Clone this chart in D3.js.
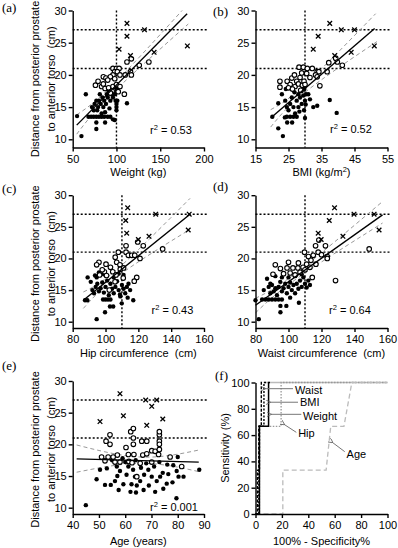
<!DOCTYPE html>
<html lang="en">
<head>
<meta charset="UTF-8">
<title>Distance from posterior prostate to anterior torso</title>
<script src="https://d3js.org/d3.v7.min.js"></script>
<style>
  body { margin: 0; background: #fff; }
  svg { display: block; font-family: "Liberation Sans", Arial, sans-serif; }
  .axis path, .axis line { stroke: #000; stroke-width: 1.4; }
  .axis text { font-size: 11px; fill: #000; font-family: "Liberation Sans", Arial, sans-serif; }
  .lbl { font-size: 11px; fill: #000; white-space: pre; }
  .plab { font-family: "Liberation Serif", "Times New Roman", serif; font-size: 13px; }
</style>
</head>
<body>
<svg id="chart" width="398" height="548"></svg>
<script>
// ---- (a) weight ----
const crossA = [[112,28],[112,26],[132,27],[103,24],[116,23],[143,23.5],[181,24.5]];
const openA = [[112,22],[117,22.5],[126,21.5],[137,22],[110,20],[116,20.5],[117,20],
  [96,21],[100,21],[103,21],[98,20.5],[101,20.5],[96,20],[104,20],
  [85,19.7],[88,19.5],[93,19.7],[76,18.4],[83,18.2],[87,17.9],[91,18],[96,18.2],[100,18.5],[104,18.2],[109,17],
  [79,19],[90,19.2],[98,19.4],[95,17.5],[102,17.4],[85,18.6],[93,17.2]];
const filledA = [[55,13.6],[60,10.5],[65,17],[77,11.6],[77,12.6],[87,12.6],[96,13.1],[112,15.6],
  [68,13.5],[71,13.5],[74,13.5],[77,13.5],[80,13.5],[83,13.5],[86,13.5],[90,13.5],[93,13.5],
  [72,15],[74,14.5],[75,15.5],[77,16],[78,14.5],[79,15],[80,16],[82,15.5],[83,14],[84,16.5],[85,15],
  [86,16],[88,15.5],[89,17],[90,16.5],[91,17.5],[93,16],[94,17],[95,17.5],[96,16.5],[98,17],[99,16],
  [100,15.5],[100,15],[100,14.5],[101,16],[100,17.5],[100,18],[98,13],[81,17],[92,14.8],[87,14.2]];
const fitA = [[54.6,12.2],[180.7,29.5]];
const hiA = [[54.6,13.8],[95,18.35],[175,30]];
const loA = [[54.6,10.8],[95,17.1],[182,27.9]];

// ---- (b) BMI ----
const crossB = [[37.5,28],[41,27],[45,27],[34,26],[32.5,24],[39,23],[44,23.5],[51,24.5]];
const openB = [[28.2,21.2],[29.5,21.2],[30.7,21],[32.2,21],[33.7,20.5],[34.2,20.5],[33.2,20],[33.7,19.7],[34.5,18.3],
  [37.2,21.9],[39.3,22.6],[39.8,22],[41.3,21.5],[36.7,20.5],
  [22.4,19],[22.4,18.1],[24.6,19],[25.5,18.5],[26,19.5],[26.8,20],[27.5,19],[27,18.2],[28,18.6],[28.5,19.6],
  [29,20.3],[29.2,18.4],[29.7,19],[25,18],[26.2,17.8],[28.7,17.6],[30,18.5],[31.5,19.6],[30.5,20.2]];
const filledB = [[20.1,13.5],[21.9,15.6],[23.3,10.5],[21.9,11.7],[24.6,12.6],[26.1,12.6],[23.9,13.4],
  [24.5,13.5],[25.5,13.5],[26.5,13.5],[27.5,13.5],
  [37.5,16.1],[39.6,14.1],[33.7,15.2],[32.5,15],[29.7,14.5],[30,13.3],
  [23,17],[24,16],[24.5,15],[25,14.5],[25.5,15.5],[26,16.5],[26.5,15],[27,14],[27.5,16],[28,15],[28,17],
  [28.5,16.5],[29,15.5],[29,17.5],[29.5,16.8],[30,16],[30.3,17],[29.8,17.8],[30.2,15.4],[31,17],[31.5,16.2],
  [28.3,14.3],[26.8,17.3],[24.2,17.8]];
const fitB = [[19.6,13.3],[51.1,27.2]];
const hiB = [[19.6,14.6],[30,18.5],[51.4,29.5]];
const loB = [[19.6,11.9],[30,17.3],[51.9,25.2]];

// ---- (c) hip ----
const crossC = [[113.5,28],[112.3,26],[112.9,24],[120,23],[126.5,23.5],[130.6,27],[151,27],[150.4,24.5]];
const openC = [[112.5,22],[119.6,22.6],[123,22],[134.8,21.5],[121,20],[107.8,21],[112.5,21],[113.9,20.5],[116,20.5],
  [117.8,20.5],[105.9,20.2],[100.3,19.1],[106.8,19.4],[108.8,19],[109,18.3],[104.4,17.9],[106.4,17.4],[105.8,16.3],
  [102.3,15],[110.8,16.9],[119,17],[117.5,16.4],[96,19.4],[94.6,19],[99.3,17.9],[96.4,17.4],[100.6,17.3],[103,18.6],
  [111,18.5],[98,18.2]];
const filledC = [[94.6,10.4],[99.7,11.5],[102.7,12.4],[104.7,12.4],[116.9,13.4],[109.9,12.9],[108.8,14.3],
  [87.5,13.4],[88.9,13.4],[98.5,13.5],[100,13.5],[101.5,13.5],[103,13.5],
  [94.6,17],[89.1,17],[93.6,17.3],
  [92,15],[93,14.5],[94,15.5],[95,16],[96,14.8],[97,15.3],[98,16.2],[99,14.6],[100,15.5],[101,16.5],[102,14.2],
  [103,16],[104,15.2],[105,14.5],[106,15.5],[107,16.4],[108,15],[109,14],[110,15.8],[111,15.2],[112,14.5],
  [113,15.5],[114,16],[115,15],[91,16.3],[96,17.8],[99,17.5],[105,17],[108,17.6],[111,17.4],[113.5,13.8]];
const fitC = [[86.5,13.4],[151.5,27]];
const hiC = [[86.5,14.7],[108,18.5],[151.5,29.5]];
const loC = [[86.5,12.1],[108,17.3],[151.5,24.6]];

// ---- (d) waist ----
const crossD = [[127.9,28],[124.7,26],[118,24],[119.8,23],[133,23.5],[139.7,27],[151.9,27],[154.9,24.5]];
const openD = [[116.4,22],[118.4,22.9],[122.4,22],[123.5,20.3],[123.5,20],[148.9,21.5],[128.5,16.5],[114.4,17],
  [109.7,21],[112.1,20.3],[113.6,19.7],[116.6,19.1],
  [90.6,17.5],[92,19],[95.1,18.4],[99.1,18.5],[102.7,18.5],[105.7,18.5],[108.8,18.6],[111,19.1],[97,17.6],
  [101,17.7],[104,17.4],[107,17.8],[110,18.2],[113,18.6],[115,20.5],[118,21],[120,20.6],[106,19.3],[100,19.4]];
const filledD = [[82,10.4],[95.1,11.5],[95.1,12.5],[98.7,12.5],[106.3,13],[80,13.4],
  [84,13.5],[86,13.5],[88,13.5],[90,13.5],[92,13.5],[94,13.5],[96,13.5],
  [85,15],[87,16.8],[88,15.5],[89,14.5],[90,15.8],[91,14.8],[92,15.3],[93,14.2],[94,15.5],[95,16.3],[96,14.8],
  [97,15.3],[98,16],[99,14.5],[100,15.5],[101,16.2],[102,15],[103,15.8],[104,14.5],[105,16],[106,15.2],
  [107,16.5],[108,15.5],[109,17],[110,16],[111,15.4],[112,16.5],[113,15.8],[92,17.2],[96,17],[100,17],
  [104,17.2],[108,17.5],[89,16],[101,13.8]];
const fitD = [[80,12.6],[157,26.9]];
const hiD = [[80,13.7],[105,17.8],[157,29]];
const loD = [[80,11.4],[105,16.8],[157,25.6]];

// ---- (e) age ----
const crossE = [[50.4,23.6],[58,28],[59.3,24.5],[68.2,23],[67.8,27],[70.1,26],[72,27],[74.3,24]];
const openE = [[54.2,21.5],[54.2,20],[52.7,20.5],[57,18.3],[51,18],[53.5,18],[52.3,17.4],[55.4,18],[60.3,19.5],
  [62.1,22],[63.1,22.5],[63.1,21],[63.1,20],[63.3,18.4],[61.4,17.3],[62.6,17.1],[61.2,18.4],[66.3,20.5],
  [68.2,20.5],[66.7,18.3],[68.2,18.5],[70.1,19],[71.4,18.9],[72.7,18.4],[73,19.2],[73,20.5],[73,21.5],[73,22],
  [73,20],[70.1,17.2],[65.7,17],[64.4,14.9],[77.1,18],[81.5,16.5],[58,17.2],[56.1,17.2]];
const filledE = [[45,10.4],[49.1,14.5],[50.4,16],[52.3,13.6],[54.5,13.6],[56.1,14.2],[57,15],[58,15.8],[59.3,13.7],
  [60.5,15.2],[62.4,13.7],[63.7,14.9],[64.4,13.5],[64.1,12.4],[65.7,14.2],[67.2,15.2],[68.8,16],[70.1,14.9],
  [71.4,12.5],[72,14.2],[73.3,14.9],[74.3,15.5],[74.5,13],[75.8,13.8],[76.4,15.3],[78.3,16.7],[79.6,15.8],
  [79.5,11.5],[80.3,14.9],[82.2,14.9],[88.2,16],[61.2,16.5],[56.8,16.5],[68,17],[80,18],[55,17.5],[59,17.8],
  [63,16],[66,16.3],[69,13.5],[71,16.5],[73,17.2],[76,16.8],[60,17.2],[53,16.2],[64,17.5],[57.5,12.8],
  [62,12.5],[67,12.8],[78,14]];
const fitE = [[41.5,17.7],[88,17.2]];
const hiE = [[41.5,19.9],[66,18],[88,19.1]];
const loE = [[41.5,15.6],[66,17],[88,15.7]];

// ---- (f) ROC: [100% - specificity, sensitivity] ----
const rocNames = ["Waist", "BMI", "Weight", "Hip", "Age"];
const rocWaist = [[0,0],[1.5,0],[1.5,33.3],[2.5,33.3],[2.5,66.7],[4.4,66.7],[4.4,100],[6,100]];
const rocBMI = [[0,0],[2.5,0],[2.5,33.3],[3,33.3],[3,66.7],[6.4,66.7],[6.4,100],[8,100]];
const rocWeight = [[0,0],[3,0],[3,66.7],[9.9,66.7],[9.9,100],[11,100]];
const rocHip = [[0,0],[3,0],[3,66.7],[19.4,66.7],[19.4,100],[100,100]];
const rocAge = [[0,0],[20.7,0],[20.7,33.3],[53.5,33.3],[57,66.7],[67,66.7],[73,100],[100,100]];

const svg = d3.select("#chart");
const yTicks = [10, 15, 20, 25, 30];

function richText(g, x, y, parts, anchor) {
  const t = g.append("text").attr("class", "lbl").attr("x", x).attr("y", y)
    .attr("text-anchor", anchor || "middle");
  let raised = false;
  parts.forEach(p => {
    if (typeof p === "string") {
      t.append("tspan").attr("dy", raised ? 4 : 0).text(p);
      raised = false;
    } else {
      t.append("tspan").attr("dy", -4).attr("font-size", 7.5).text(p.sup);
      raised = true;
    }
  });
  return t;
}

function scatterPanel(o) {
  const g = svg.append("g");
  const unit = (o.y10 - o.top) / 20;
  const yMin = 10 - (o.axisY - o.y10) / unit;
  const x = d3.scaleLinear().domain(o.xDom).range(o.xs);
  const y = d3.scaleLinear().domain([yMin, 30]).range([o.axisY, o.top]);

  // threshold lines
  const ref = g.append("g").attr("stroke", "#000").attr("stroke-width", 1.4)
    .attr("stroke-dasharray", "2,2").attr("fill", "none");
  [27, 21].forEach(v => ref.append("line")
    .attr("x1", o.xs[0]).attr("x2", o.xs[1] + 3).attr("y1", y(v)).attr("y2", y(v)));
  if (o.vLine != null) {
    ref.append("line").attr("x1", x(o.vLine)).attr("x2", x(o.vLine)).attr("y1", y(30)).attr("y2", o.axisY);
  }

  // confidence band
  const curve = d3.line().x(d => x(d[0])).y(d => y(d[1])).curve(d3.curveNatural);
  [o.hi, o.lo].forEach(b => g.append("path").attr("d", curve(b)).attr("fill", "none")
    .attr("stroke", "#999").attr("stroke-width", 1).attr("stroke-dasharray", "4,3"));

  // points
  g.selectAll(".f").data(o.filled).join("circle")
    .attr("cx", d => x(d[0])).attr("cy", d => y(d[1])).attr("r", 2.2).attr("fill", "#000");
  g.selectAll(".o").data(o.open).join("circle")
    .attr("cx", d => x(d[0])).attr("cy", d => y(d[1])).attr("r", 2.3)
    .attr("fill", "#fff").attr("stroke", "#000").attr("stroke-width", 1.1);
  const s = 2.3;
  g.selectAll(".x").data(o.cross).join("path")
    .attr("transform", d => `translate(${x(d[0])},${y(d[1])})`)
    .attr("d", `M${-s},${-s}L${s},${s}M${-s},${s}L${s},${-s}`)
    .attr("stroke", "#000").attr("stroke-width", 1.3);

  // fit line
  g.append("path").attr("d", d3.line().x(d => x(d[0])).y(d => y(d[1]))(o.fit))
    .attr("stroke", "#000").attr("stroke-width", 1.4).attr("fill", "none");

  // axes
  g.append("g").attr("class", "axis").attr("transform", `translate(${o.xs[0]},0)`)
    .call(d3.axisLeft(y).tickValues(yTicks).tickSize(4).tickSizeOuter(0).tickPadding(2));
  g.append("g").attr("class", "axis").attr("transform", `translate(0,${o.axisY})`)
    .call(d3.axisBottom(x).tickValues(o.xTicks).tickSize(4).tickSizeOuter(0).tickPadding(3.5));

  richText(g, (o.xs[0] + o.xs[1]) / 2, o.xTitleY, o.xTitle);
  richText(g, o.r2pos[0], o.r2pos[1], ["r", {sup: "2"}, " = " + o.r2], "start");
  g.append("text").attr("class", "plab").attr("x", o.lab[0]).attr("y", o.lab[1]).text(`(${o.id})`);

  if (o.yTitle) {
    const cy = o.top + 68.5;
    g.append("text").attr("class", "lbl").attr("text-anchor", "middle")
      .attr("transform", `translate(38.5,${cy}) rotate(-90)`).text("Distance from posterior prostate");
    g.append("text").attr("class", "lbl").attr("text-anchor", "middle")
      .attr("transform", `translate(55,${cy}) rotate(-90)`).text("to anterior torso  (cm)");
  }
}

scatterPanel({id: "a", xs: [72.7, 204], top: 10.5, y10: 139.3, axisY: 147.5, xDom: [50, 200],
  xTicks: [50, 100, 150, 200], vLine: 100, fit: fitA, hi: hiA, lo: loA,
  filled: filledA, open: openA, cross: crossA, r2: "0.53", r2pos: [150, 134],
  xTitle: ["Weight (kg)"], xTitleY: 175.5, lab: [2, 12], yTitle: true});
scatterPanel({id: "b", xs: [255.5, 387.5], top: 10.5, y10: 139.3, axisY: 147.5, xDom: [15, 55],
  xTicks: [15, 25, 35, 45, 55], vLine: 30, fit: fitB, hi: hiB, lo: loB,
  filled: filledB, open: openB, cross: crossB, r2: "0.52", r2pos: [330, 133],
  xTitle: ["BMI (kg/m", {sup: "2"}, ")"], xTitleY: 175.5, lab: [213, 16], yTitle: false});
scatterPanel({id: "c", xs: [72.7, 204], top: 195.2, y10: 321.7, axisY: 328, xDom: [80, 160],
  xTicks: [80, 100, 120, 140, 160], vLine: 110, fit: fitC, hi: hiC, lo: loC,
  filled: filledC, open: openC, cross: crossC, r2: "0.43", r2pos: [151.5, 314],
  xTitle: ["Hip circumference  (cm)"], xTitleY: 356.5, lab: [2, 193], yTitle: true});
scatterPanel({id: "d", xs: [255.5, 387.5], top: 195.2, y10: 321.7, axisY: 328, xDom: [80, 160],
  xTicks: [80, 100, 120, 140, 160], vLine: 110, fit: fitD, hi: hiD, lo: loD,
  filled: filledD, open: openD, cross: crossD, r2: "0.64", r2pos: [329, 314],
  xTitle: ["Waist circumference  (cm)"], xTitleY: 356.5, lab: [213, 191], yTitle: false});
scatterPanel({id: "e", xs: [72.7, 204], top: 381, y10: 507.7, axisY: 514, xDom: [40, 90],
  xTicks: [40, 50, 60, 70, 80, 90], vLine: null, fit: fitE, hi: hiE, lo: loE,
  filled: filledE, open: openE, cross: crossE, r2: "0.001", r2pos: [150, 511],
  xTitle: ["Age (years)"], xTitleY: 545, lab: [2, 370], yTitle: true});

// ---- (f) ROC panel ----
(function () {
  const g = svg.append("g");
  const x = d3.scaleLinear().domain([0, 100]).range([255.5, 387.5]);
  const y = d3.scaleLinear().domain([0, 100]).range([514, 382.5]);
  const line = d3.line().x(d => x(d[0])).y(d => y(d[1]));
  const styles = [
    {data: rocHip, color: "#999", dash: "1.5,1.5", w: 1.3},
    {data: rocAge, color: "#bbb", dash: "5,3", w: 1.3},
    {data: rocWeight, color: "#000", dash: null, w: 1.5},
    {data: rocBMI, color: "#000", dash: "2,1.5", w: 1.4},
    {data: rocWaist, color: "#000", dash: "3,1.5", w: 1.4}
  ];
  // the shared 100% plateau
  g.append("line").attr("x1", x(6)).attr("x2", x(100)).attr("y1", y(100)).attr("y2", y(100))
    .attr("stroke", "#bbb").attr("stroke-width", 1.3);
  styles.forEach(st => g.append("path").attr("d", line(st.data)).attr("fill", "none")
    .attr("stroke", st.color).attr("stroke-width", st.w).attr("stroke-dasharray", st.dash));

  svg.append("defs").append("marker").attr("id", "ah").attr("viewBox", "0 0 6 6")
    .attr("refX", 1).attr("refY", 3).attr("markerWidth", 5).attr("markerHeight", 5)
    .attr("orient", "auto-start-reverse")
    .append("path").attr("d", "M6,0L0,3L6,6").attr("fill", "none").attr("stroke", "#666").attr("stroke-width", 1);

  // annotation layout: arrow tip, arrow tail, label anchor (axis units)
  const notes = [
    {a: [7, 95.3], b: [28.4, 95.3], t: [30, 91.3]},
    {a: [10.8, 85], b: [32.2, 85], t: [33.7, 82]},
    {a: [11.5, 75.8], b: [34.7, 75.8], t: [36, 71.5]},
    {a: [21.6, 68.2], b: [30.9, 62.1], t: [32.3, 58.6]},
    {a: [58.2, 54.5], b: [67.6, 47.4], t: [69, 42.6]}
  ];
  notes.forEach((n, i) => {
    g.append("line").attr("x1", x(n.a[0])).attr("y1", y(n.a[1])).attr("x2", x(n.b[0])).attr("y2", y(n.b[1]))
      .attr("stroke", "#777").attr("stroke-width", 1).attr("marker-start", "url(#ah)");
    g.append("text").attr("class", "lbl").attr("x", x(n.t[0])).attr("y", y(n.t[1])).text(rocNames[i]);
  });

  g.append("g").attr("class", "axis").attr("transform", `translate(${x(0)},0)`)
    .call(d3.axisLeft(y).tickValues([0, 20, 40, 60, 80, 100]).tickSize(4).tickSizeOuter(0).tickPadding(2));
  g.append("g").attr("class", "axis").attr("transform", `translate(0,${y(0)})`)
    .call(d3.axisBottom(x).tickValues([0, 20, 40, 60, 80, 100]).tickSize(4).tickSizeOuter(0).tickPadding(3.5));

  g.append("text").attr("class", "lbl").attr("text-anchor", "middle").attr("x", 321.5).attr("y", 545)
    .text("100% - Specificity%");
  g.append("text").attr("class", "lbl").attr("text-anchor", "middle")
    .attr("transform", "translate(229,448) rotate(-90)").text("Sensitivity (%)");
  g.append("text").attr("class", "plab").attr("x", 215).attr("y", 380).text("(f)");
})();
</script>
</body>
</html>
